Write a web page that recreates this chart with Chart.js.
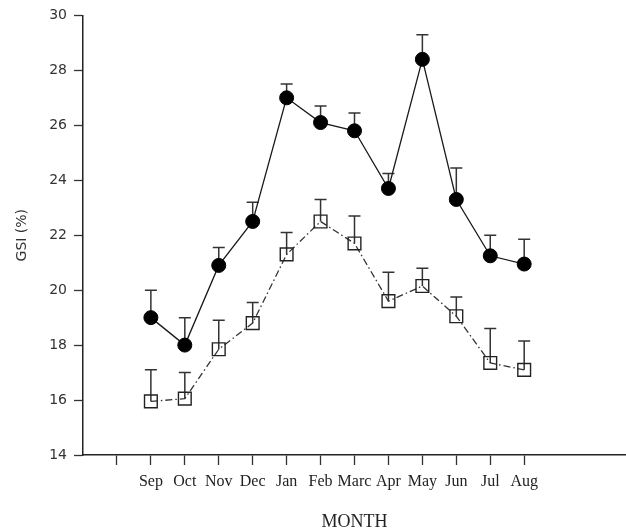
<!DOCTYPE html>
<html>
<head>
<meta charset="utf-8">
<script src="https://cdn.jsdelivr.net/npm/chart.js@4/dist/chart.umd.min.js"></script>
<style>
  html, body { margin: 0; padding: 0; background: #fff; }
  #wrap { width: 626px; height: 531px; }
</style>
</head>
<body>
<div id="wrap"><canvas id="chart" width="626" height="531"></canvas></div>
<script>
// months on the x axis (two empty slots before Sep, three after Aug)
const months = ['Sep', 'Oct', 'Nov', 'Dec', 'Jan', 'Feb', 'Marc', 'Apr', 'May', 'Jun', 'Jul', 'Aug'];

// filled circles
const gsiA = [19.0, 18.0, 20.9, 22.5, 27.0, 26.1, 25.8, 23.7, 28.4, 23.3, 21.25, 20.95];
const errA = [1.0, 1.0, 0.65, 0.7, 0.5, 0.6, 0.65, 0.55, 0.9, 1.15, 0.75, 0.9];

// open squares
const gsiB = [15.95, 16.05, 17.85, 18.8, 21.3, 22.5, 21.7, 19.6, 20.15, 19.05, 17.35, 17.1];
const errB = [1.15, 0.95, 1.05, 0.75, 0.8, 0.8, 1.0, 1.05, 0.65, 0.7, 1.25, 1.05];

const yTicks = [14, 16, 18, 20, 22, 24, 26, 28, 30];

const toPoints = (vals) => vals.map((v, i) => ({ x: i, y: v }));

// draws upper error bars with a cap, behind the markers
const errorBars = {
    id: 'errorBars',
    beforeDatasetsDraw(chart) {
        const ctx = chart.ctx;
        const xs = chart.scales.x;
        const ys = chart.scales.y;
        ctx.save();
        ctx.strokeStyle = '#333';
        ctx.lineWidth = 1.5;
        chart.data.datasets.forEach((ds) => {
            ds.data.forEach((p, i) => {
                const px = xs.getPixelForValue(p.x);
                const y0 = ys.getPixelForValue(p.y);
                const y1 = ys.getPixelForValue(p.y + ds.err[i]);
                ctx.beginPath();
                ctx.moveTo(px, y0);
                ctx.lineTo(px, y1);
                ctx.moveTo(px - 6, y1);
                ctx.lineTo(px + 6, y1);
                ctx.stroke();
            });
        });
        ctx.restore();
    }
};

new Chart(document.getElementById('chart'), {
    type: 'line',
    data: {
        datasets: [
            {
                label: 'A',
                data: toPoints(gsiA),
                err: errA,
                borderColor: '#1a1a1a',
                borderWidth: 1.3,
                pointStyle: 'circle',
                pointRadius: 7,
                pointBackgroundColor: '#000',
                pointBorderColor: '#000',
                pointBorderWidth: 1
            },
            {
                label: 'B',
                data: toPoints(gsiB),
                err: errB,
                borderColor: '#333',
                borderWidth: 1.3,
                borderDash: [7, 3, 1.5, 3],
                pointStyle: 'rect',
                pointRadius: 9,
                pointBackgroundColor: 'rgba(255,255,255,0)',
                pointBorderColor: '#222',
                pointBorderWidth: 1.4
            }
        ]
    },
    options: {
        responsive: false,
        animation: false,
        layout: { autoPadding: false, padding: { top: 14, right: 0, left: 0, bottom: 0 } },
        plugins: {
            legend: { display: false },
            tooltip: { enabled: false }
        },
        scales: {
            x: {
                type: 'linear',
                min: -2,
                max: 14,
                afterFit: (scale) => {
                    scale.height = 76;
                    scale.paddingLeft = 0;
                    scale.paddingRight = 0;
                },
                afterBuildTicks: (scale) => {
                    scale.ticks = [];
                    for (let v = -2; v <= 14; v++) scale.ticks.push({ value: v });
                },
                ticks: {
                    autoSkip: false,
                    maxRotation: 0,
                    padding: 7,
                    color: '#222',
                    font: { family: 'Liberation Serif', size: 16 },
                    callback: (v) => months[v] || ''
                },
                grid: {
                    drawOnChartArea: false,
                    tickLength: 10,
                    tickWidth: 1.3,
                    tickColor: (c) => (c.tick && c.tick.value >= -1 && c.tick.value <= 11) ? '#333' : 'rgba(0,0,0,0)'
                },
                border: { display: true, color: '#222', width: 1.5 },
                title: {
                    display: true,
                    text: 'MONTH',
                    color: '#222',
                    font: { family: 'Liberation Serif', size: 18, lineHeight: 1 },
                    padding: { top: 0, bottom: 0 }
                }
            },
            y: {
                min: 14,
                max: 30,
                afterFit: (scale) => { scale.width = 83; },
                afterBuildTicks: (scale) => {
                    scale.ticks = yTicks.map((v) => ({ value: v }));
                },
                ticks: {
                    padding: 7,
                    color: '#333',
                    font: { family: 'DejaVu Sans', size: 14 }
                },
                grid: {
                    drawOnChartArea: false,
                    tickLength: 9,
                    tickWidth: 1.3,
                    tickColor: '#333'
                },
                border: { display: true, color: '#222', width: 1.5 },
                title: {
                    display: true,
                    text: 'GSI (%)',
                    color: '#333',
                    font: { family: 'DejaVu Sans', size: 14, lineHeight: 1.2 },
                    padding: { top: 14, bottom: 0 }
                }
            }
        }
    },
    plugins: [errorBars]
});
</script>
</body>
</html>
